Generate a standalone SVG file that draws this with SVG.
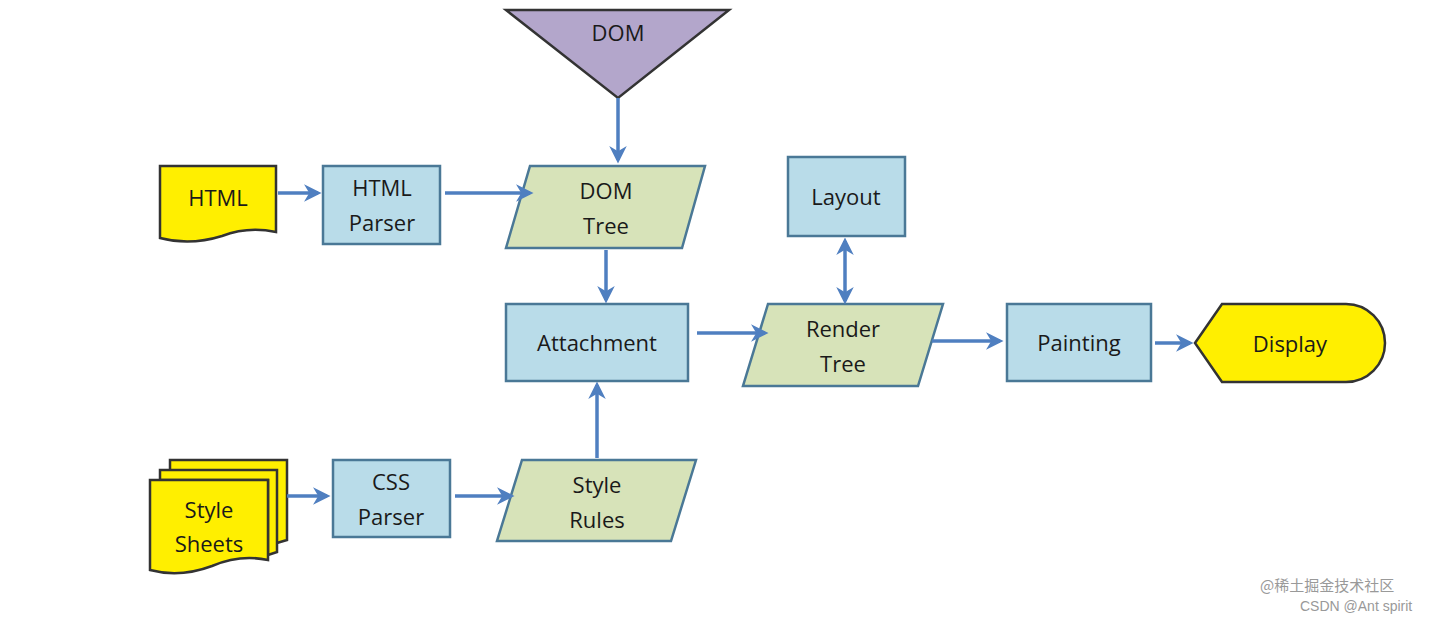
<svg xmlns="http://www.w3.org/2000/svg" width="1438" height="617" viewBox="0 0 1438 617">
<style>
.t{font-family:"Open Sans","Liberation Sans",sans-serif;font-size:22px;fill:#1a1a1a;text-anchor:middle}
.b{fill:#b9dce9;stroke:#4a7896;stroke-width:2.5}
.g{fill:#d7e3b9;stroke:#4a7896;stroke-width:2.5}
.y{fill:#ffef00;stroke:#333;stroke-width:2.5}
.c line{stroke:#4f7fc0;stroke-width:3.5;fill:none}
.w{font-family:"Noto Sans CJK SC","Liberation Sans",sans-serif;font-size:15px;fill:#999}
</style>
<defs>
<marker id="a" viewBox="0 0 10 10" refX="8" refY="5" markerWidth="5" markerHeight="5" orient="auto-start-reverse"><path d="M0,0 L10,5 L0,10 L3,5 z" fill="#4f7fc0"/></marker>
</defs>
<rect width="1438" height="617" fill="#fff"/>
<g id="dom"><polygon points="506,10 729,10 618,98" fill="#b3a6cb" stroke="#333" stroke-width="2.5"/><text class="t" x="618" y="41">DOM</text></g>
<g id="html"><path class="y" d="M160,166 H276 V232 Q248,226 222,236 Q190,246 160,238 Z"/><text class="t" x="218" y="206">HTML</text></g>
<g id="htmlparser"><rect class="b" x="323" y="166" width="117" height="78"/><text class="t" x="382" y="196">HTML</text><text class="t" x="382" y="231">Parser</text></g>
<g id="domtree"><polygon class="g" points="530,166 705,166 682,248 506,248"/><text class="t" x="606" y="199">DOM</text><text class="t" x="606" y="234">Tree</text></g>
<g id="attachment"><rect class="b" x="506" y="304" width="182" height="77"/><text class="t" x="597" y="351">Attachment</text></g>
<g id="layout"><rect class="b" x="788" y="157" width="117" height="79"/><text class="t" x="846" y="205">Layout</text></g>
<g id="rendertree"><polygon class="g" points="768,304 943,304 918,386 743,386"/><text class="t" x="843" y="337">Render</text><text class="t" x="843" y="372">Tree</text></g>
<g id="painting"><rect class="b" x="1007" y="304" width="144" height="77"/><text class="t" x="1079" y="351">Painting</text></g>
<g id="display"><path class="y" d="M1195,343 L1222,304 H1346 A39,39 0 0 1 1346,382 H1222 Z"/><text class="t" x="1290" y="352">Display</text></g>
<g id="stylesheets">
<path class="y" d="M170,460 H287 V540 L270,545 V480 H170 Z"/>
<path class="y" d="M160,470 H277 V552 L268,555 V480 H160 Z"/>
<path class="y" d="M150,480 H268 V560 Q240,554 212,566 Q180,578 150,570 Z"/>
<text class="t" x="209" y="518">Style</text><text class="t" x="209" y="552">Sheets</text></g>
<g id="cssparser"><rect class="b" x="333" y="460" width="117" height="77"/><text class="t" x="391" y="490">CSS</text><text class="t" x="391" y="525">Parser</text></g>
<g id="stylerules"><polygon class="g" points="522,460 696,460 671,541 497,541"/><text class="t" x="597" y="493">Style</text><text class="t" x="597" y="528">Rules</text></g>
<g class="c" id="connectors">
<line x1="618" y1="98" x2="618" y2="160" marker-end="url(#a)"/>
<line x1="278" y1="193" x2="318" y2="193" marker-end="url(#a)"/>
<line x1="445" y1="193" x2="530" y2="193" marker-end="url(#a)"/>
<line x1="606" y1="250" x2="606" y2="300" marker-end="url(#a)"/>
<line x1="597" y1="458" x2="597" y2="385" marker-end="url(#a)"/>
<line x1="697" y1="333" x2="765" y2="333" marker-end="url(#a)"/>
<line x1="845" y1="241" x2="845" y2="301" marker-start="url(#a)" marker-end="url(#a)"/>
<line x1="932" y1="341" x2="1000" y2="341" marker-end="url(#a)"/>
<line x1="1155" y1="343" x2="1190" y2="343" marker-end="url(#a)"/>
<line x1="287" y1="496" x2="327" y2="496" marker-end="url(#a)"/>
<line x1="455" y1="496" x2="511" y2="496" marker-end="url(#a)"/>
</g>
<text class="w" x="1260" y="591">@稀土掘金技术社区</text>
<text class="w" x="1300" y="611" style="font-family:'Liberation Sans',sans-serif;font-size:14px">CSDN @Ant spirit</text>
</svg>
